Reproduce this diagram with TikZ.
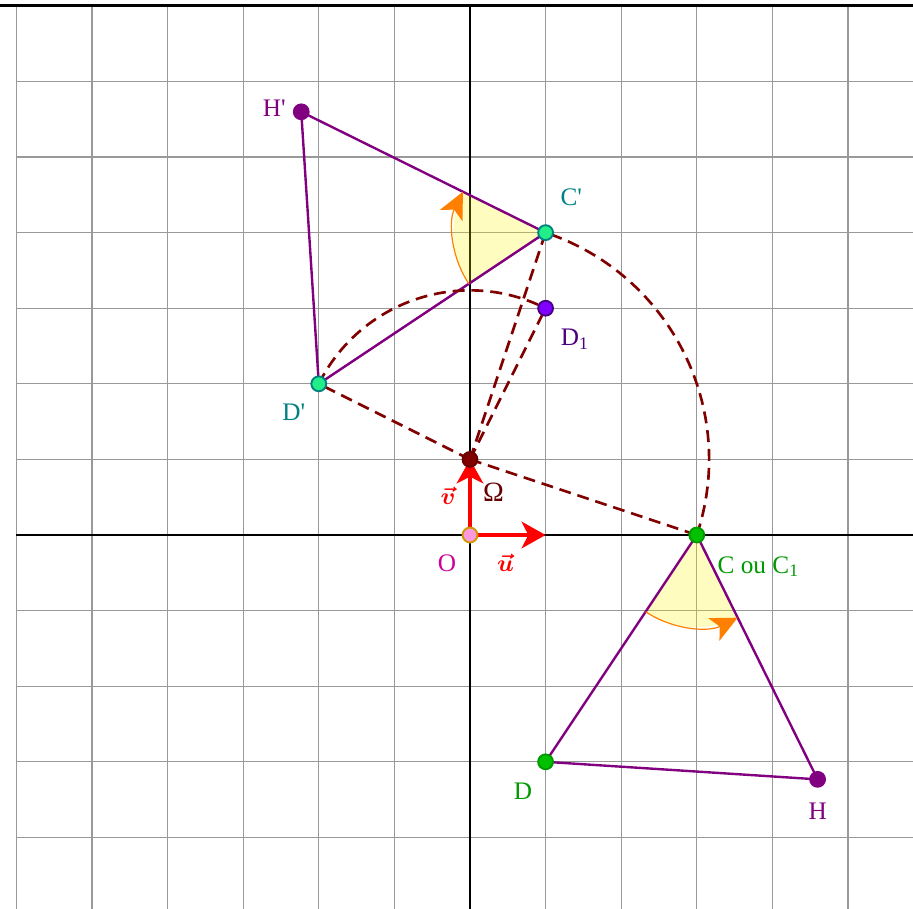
\documentclass[tikz,border=0pt]{standalone}
\usepackage{amsmath}
\usepackage{bm}
\usepackage{fontspec}
\setmainfont{Liberation Serif}
\usetikzlibrary{arrows.meta}
\definecolor{gridgray}{HTML}{999999}
\definecolor{tric}{HTML}{800080}
\definecolor{dred}{HTML}{800000}
\definecolor{omegac}{HTML}{660000}
\definecolor{ptgreen}{HTML}{00C000}
\definecolor{brdgreen}{HTML}{009900}
\definecolor{lblgreen}{HTML}{009900}
\definecolor{spring}{HTML}{22EE88}
\definecolor{tealc}{HTML}{008080}
\definecolor{violetf}{HTML}{7F00FF}
\definecolor{indigoc}{HTML}{4B0082}
\definecolor{pinkf}{HTML}{FF99DD}
\definecolor{goldb}{HTML}{CC9900}
\definecolor{magc}{HTML}{CC0099}
\definecolor{orangec}{HTML}{FF8000}
\tikzset{
  gridline/.style={gridgray, line width=0.45pt},
  axisline/.style={black, line width=0.8pt},
  triline/.style={tric, line width=0.9pt, line join=round},
  dashline/.style={dred, line width=1pt, dash pattern=on 4.5pt off 2.6pt},
  vecline/.style={red, line width=1.5pt, -{Stealth[length=9pt, width=10pt, inset=2.5pt]}},
  sector/.style={fill=yellow, fill opacity=0.25},
  anglearc/.style={orangec, line width=0.45pt, -{Stealth[length=10pt, width=9.5pt, inset=2.5pt]}},
  pt/.style={circle, inner sep=0pt, minimum size=5.6pt, line width=0.7pt},
  lbl/.style={inner sep=0pt, font=\fontsize{9.5}{11}\selectfont},
}
\begin{document}
\begin{tikzpicture}
\useasboundingbox (-6.217,-4.947) rectangle (5.860,7.077);
% grid and axes
\draw[gridline] (-6,-4.947) grid (5.86,7);
\draw[axisline] (-6,0) -- (5.86,0);
\draw[axisline] (0,-4.947) -- (0,7);
\draw[black, line width=1.1pt] (-6.217,7) -- (5.86,7);
% coordinates
\coordinate (o) at (0,0);
\coordinate (om) at (0,1);
\coordinate (c) at (3,0);
\coordinate (d) at (1,-3);
\coordinate (h) at (4.598,-3.232);
\coordinate (cp) at (1,4);
\coordinate (dp) at (-2,2);
\coordinate (hp) at (-2.232,5.598);
\coordinate (d1) at (1,3);
\coordinate (ux) at (1,0);
% yellow angle sectors
\fill[sector] (c) -- ++(236.31:1.22) arc[start angle=236.31, end angle=296.31, radius=1.22] -- cycle;
\fill[sector] (cp) -- ++(213.69:1.22) arc[start angle=213.69, end angle=153.69, radius=1.22] -- cycle;
% triangles
\draw[triline] (c) -- (d) -- (h) -- cycle;
\draw[triline] (cp) -- (dp) -- (hp) -- cycle;
% dashed lines and arcs
\draw[dashline] (om) -- (dp);
\draw[dashline] (om) -- (c);
\draw[dashline] (om) -- (cp);
\draw[dashline] (om) -- (d1);
\draw[dashline] (c) arc[start angle=-18.435, end angle=71.565, radius={sqrt(10)}];
\draw[dashline] (dp) arc[start angle=153.435, end angle=63.435, radius={sqrt(5)}];
% angle arcs
\draw[anglearc] (c) ++(236.31:1.22) arc[start angle=236.31, end angle=296.31, radius=1.22];
\draw[anglearc] (cp) ++(213.69:1.22) arc[start angle=213.69, end angle=153.69, radius=1.22];
% vectors
\draw[vecline] (o) -- (ux);
\draw[vecline] (o) -- (om);
% points
\node[pt, fill=pinkf, draw=goldb] (O) at (o) {};
\node[pt, fill=dred, draw=omegac] (Om) at (om) {};
\node[pt, fill=ptgreen, draw=brdgreen] (C) at (c) {};
\node[pt, fill=ptgreen, draw=brdgreen] (D) at (d) {};
\node[pt, fill=tric, draw=tric] (H) at (h) {};
\node[pt, fill=spring, draw=tealc] (Cp) at (cp) {};
\node[pt, fill=spring, draw=tealc] (Dp) at (dp) {};
\node[pt, fill=tric, draw=tric] (Hp) at (hp) {};
\node[pt, fill=violetf, draw=indigoc] (D1) at (d1) {};
% labels
\node[lbl, text=magc] (lO) at (-0.304,-0.375) {O};
\node[lbl, text=red] (lu) at (0.47,-0.37) {$\bm{\vec{u}}$};
\node[lbl, text=red] (lv) at (-0.29,0.52) {$\bm{\vec{v}}$};
\node[lbl, text=omegac] (lOm) at (0.31,0.57) {\fontsize{10.5}{12}\selectfont Ω};
\node[lbl, text=lblgreen, anchor=west] (lC) at (3.27,-0.42) {C ou C\textsubscript{1}};
\node[lbl, text=lblgreen] (lD) at (0.70,-3.39) {D};
\node[lbl, text=tric] (lH) at (4.60,-3.65) {H};
\node[lbl, text=tric] (lHp) at (-2.59,5.65) {H\textquotesingle};
\node[lbl, text=tealc] (lCp) at (1.34,4.47) {C\textquotesingle};
\node[lbl, text=indigoc] (lD1) at (1.39,2.59) {D\textsubscript{1}};
\node[lbl, text=tealc] (lDp) at (-2.33,1.62) {D\textquotesingle};
\end{tikzpicture}
\end{document}
